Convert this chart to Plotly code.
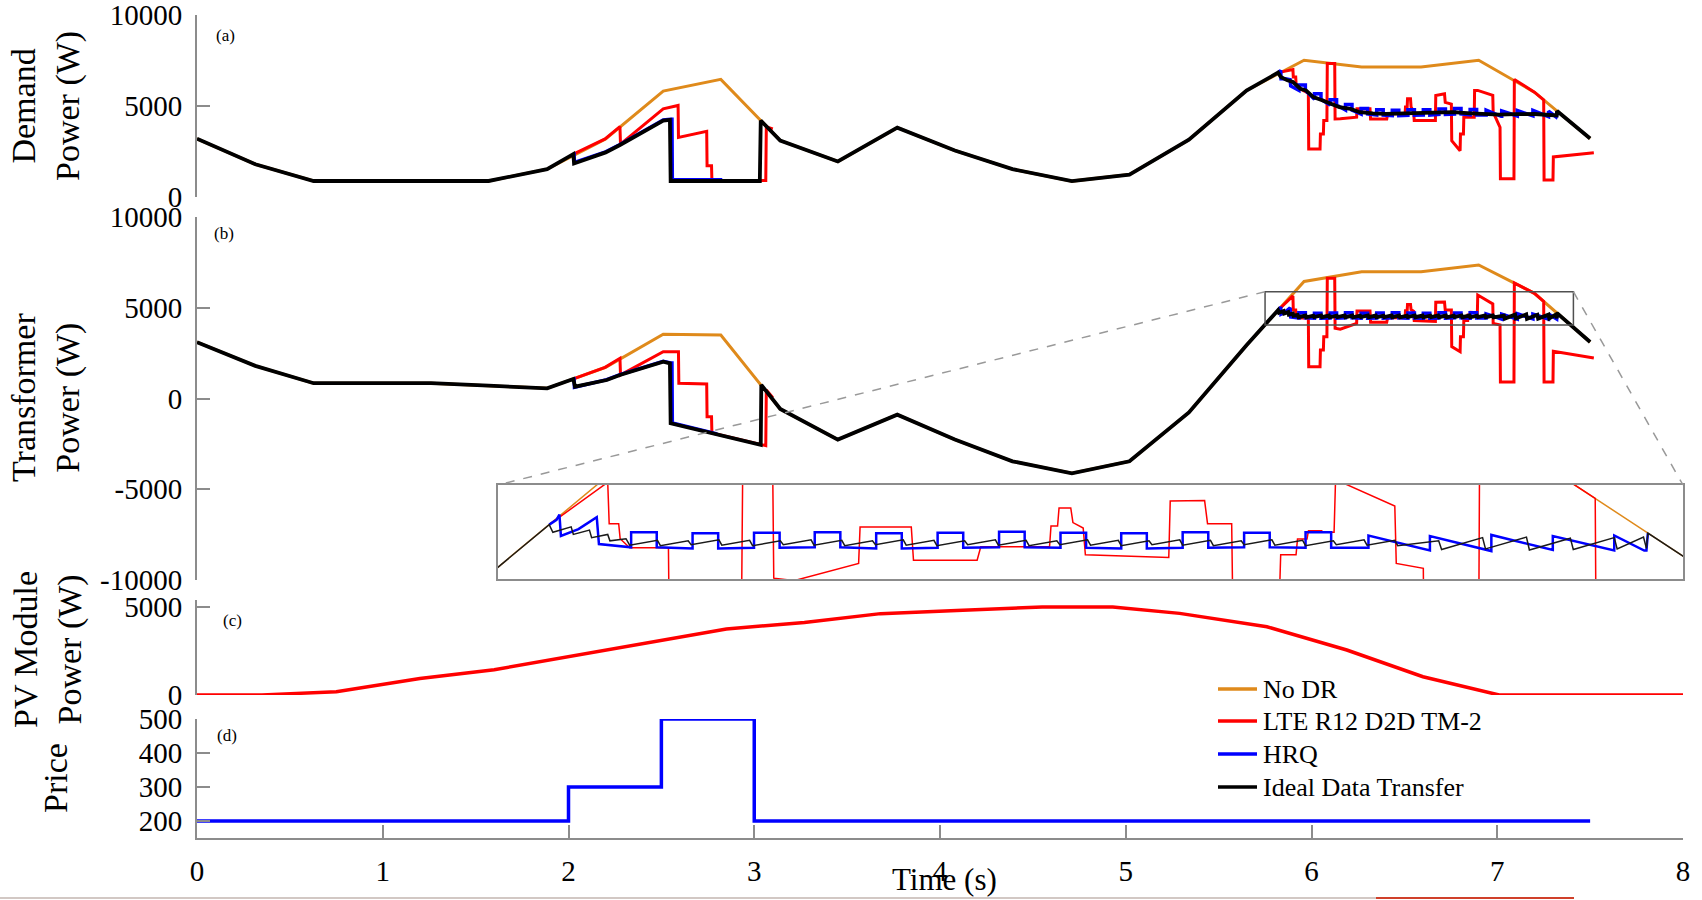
import plotly.graph_objects as go

# ====================== data ======================
# base time grid (s) for demand profiles
t_base = [0, 0.314, 0.628, 1.26, 1.57, 1.885, 2.2, 2.51, 2.82, 3.14, 3.45, 3.77, 4.08,
          4.39, 4.71, 5.02, 5.34, 5.65, 5.96, 6.27, 6.59, 6.9, 7.2, 7.5]
# No DR
nodr_a = [3200, 1800, 880, 880, 880, 1530, 3190, 5818, 6464, 3100, 1950, 3812, 2553,
          1530, 873, 1232, 3150, 5850, 7514, 7144, 7144, 7514, 5760, 3210]
nodr_b = [3100, 1800, 843, 843, 705, 560, 1720, 3537, 3500, -580, -2265, -890, -2265,
          -3460, -4120, -3460, -770, 2937, 6450, 6986, 6986, 7355, 5796, 3113]

# Ideal Data Transfer, panel (a)
ideal_a_t = [0, 0.314, 0.628, 1.26, 1.57, 1.885, 2.026, 2.03, 2.2, 2.277, 2.51, 2.546, 2.55,
             3.03, 3.035, 3.14, 3.45, 3.77, 4.08, 4.39, 4.71, 5.02, 5.34, 5.65, 5.82, 5.835,
             5.87, 5.9, 5.94, 5.97, 6.01, 6.05, 6.08, 6.12, 6.15, 6.21, 6.26, 6.33, 6.4, 6.5,
             6.58, 6.68, 6.76, 6.86, 6.94, 7.01, 7.1, 7.2, 7.32, 7.322, 7.5]
ideal_a_v = [3200, 1800, 880, 880, 880, 1530, 2360, 1840, 2450, 2856, 4200, 4240, 880,
             880, 4200, 3100, 1950, 3812, 2553, 1530, 873, 1232, 3150, 5850, 6834, 6590,
             6410, 6320, 5950, 5860, 5490, 5340, 5210, 5080, 4940, 4840, 4660, 4600, 4570, 4590,
             4600, 4630, 4660, 4600, 4560, 4530, 4550, 4560, 4480, 4723, 3210]

# Ideal Data Transfer, panel (b)
ideal_b_pre_t = [0, 0.314, 0.628, 1.26, 1.57, 1.885, 2.026, 2.035, 2.206, 2.277, 2.51, 2.546,
                 2.55, 2.762, 3.035, 3.038, 3.14, 3.45, 3.77, 4.08, 4.39, 4.71, 5.02, 5.34,
                 5.65, 5.82, 5.825, 5.85, 5.853, 5.875, 5.878, 5.9, 5.903, 5.925]
ideal_b_pre_v = [3100, 1800, 843, 843, 705, 560, 1079, 650, 1019, 1295, 2028, 1939,
                 -1366, -1884, -2550, 750, -580, -2265, -890, -2265, -3460, -4120, -3460, -770,
                 2937, 4863, 4720, 4820, 4680, 4760, 4620, 4680, 4560, 4600]
ideal_b_teeth_t = [5.93, 5.972, 6.014, 6.056, 6.098, 6.14, 6.182, 6.224, 6.266, 6.308, 6.35,
                   6.392, 6.434, 6.476, 6.518, 6.56, 6.602, 6.644, 6.686, 6.728, 6.77, 6.812,
                   6.854, 6.896, 6.938, 6.98, 7.04, 7.1, 7.16, 7.22, 7.28]
ideal_b_teeth_low = [4480, 4470, 4490, 4480, 4470, 4490, 4480, 4470, 4490, 4480, 4470,
                     4490, 4480, 4470, 4490, 4480, 4470, 4490, 4480, 4470, 4490, 4480,
                     4470, 4490, 4480, 4470, 4400, 4410, 4390, 4400, 4410]
ideal_b_teeth_high = [4570, 4560, 4580, 4570, 4560, 4580, 4570, 4560, 4580, 4570, 4560,
                      4580, 4570, 4560, 4580, 4570, 4560, 4580, 4570, 4560, 4580, 4570,
                      4560, 4580, 4570, 4560, 4620, 4630, 4610, 4620, 4630]
ideal_b_post_t = [7.32, 7.322, 7.5]
ideal_b_post_v = [4420, 4705, 3113]

# HRQ
hrq_pulse_t = [5.932, 6.016, 6.10, 6.183, 6.267, 6.351, 6.435, 6.519, 6.602, 6.686, 6.77, 6.854]
hrq_pulse_w = 0.035
hrq_ramp_t = [6.94, 7.024, 7.108, 7.192, 7.276]
hrq_end_t = 7.32

hrq_a_w1_t = [2.026, 2.03, 2.032, 2.2, 2.277, 2.51, 2.55, 2.557, 2.559, 2.82, 2.822]
hrq_a_w1_v = [2360, 2360, 1900, 2480, 2880, 4230, 4270, 4270, 950, 950, 880]
hrq_a_pre_t = [5.82, 5.83, 5.834, 5.836, 5.86, 5.885, 5.888]
hrq_a_pre_v = [6834, 6900, 6950, 6500, 6500, 6450, 6100]
hrq_a_base = [5860, 5370, 5050, 4780, 4560, 4500, 4470, 4490, 4500, 4540, 4560, 4510]
hrq_a_top = [6160, 5670, 5350, 5080, 4860, 4800, 4770, 4790, 4800, 4840, 4860, 4810]
hrq_a_ramp_top = [4770, 4730, 4750, 4760, 4710]
hrq_a_ramp_low = [4430, 4450, 4460, 4410, 4400]
hrq_a_end_v = [4480, 4723]

hrq_b_w1_t = [2.026, 2.03, 2.032, 2.206, 2.277, 2.51, 2.55, 2.557, 2.559, 2.762, 2.8]
hrq_b_w1_v = [1079, 1079, 620, 1040, 1320, 2050, 1960, 1960, -1350, -1850, -1950]
hrq_b_pre_t = [5.82, 5.83, 5.834, 5.836, 5.86, 5.885, 5.888]
hrq_b_pre_v = [4863, 4950, 5050, 4650, 4780, 5000, 4500]
hrq_b_base = [4440, 4420, 4430, 4440, 4420, 4430, 4440, 4430, 4420, 4430, 4440, 4430]
hrq_b_top = [4720, 4700, 4710, 4720, 4700, 4710, 4730, 4710, 4700, 4720, 4710, 4720]
hrq_b_ramp_top = [4660, 4650, 4670, 4650, 4660]
hrq_b_ramp_low = [4380, 4370, 4390, 4380, 4380]
hrq_b_end_v = [4380, 4705]

# LTE R12 D2D TM-2
lte_a_w1_t = [2.026, 2.197, 2.277, 2.28, 2.51, 2.59, 2.592, 2.744, 2.746, 2.77, 2.772, 3.062, 3.065, 3.1]
lte_a_w1_v = [2360, 3190, 3867, 2900, 4845, 5028, 3276, 3608, 1713, 1713, 900, 900, 3855, 3740]
lte_b_w1_t = [2.026, 2.197, 2.277, 2.28, 2.313, 2.51, 2.592, 2.594, 2.744, 2.746, 2.77, 2.772, 3.062, 3.065, 3.1]
lte_b_w1_v = [1079, 1719, 2215, 1295, 1477, 2579, 2579, 837, 799, -1003, -1003, -1900, -2600, 472, 40]
lte_w2_t = [5.82, 5.9, 5.902, 5.915, 5.917, 5.93, 5.983, 5.985, 6.046, 6.048, 6.064, 6.066,
            6.083, 6.085, 6.125, 6.127, 6.155, 6.243, 6.245, 6.315, 6.318, 6.405, 6.41, 6.504,
            6.506, 6.515, 6.517, 6.533, 6.536, 6.55, 6.553, 6.667, 6.669, 6.716, 6.72, 6.753,
            6.755, 6.8, 6.802, 6.818, 6.82, 6.841, 6.843, 6.856, 6.858, 6.876, 6.878, 6.893,
            6.895, 6.976, 6.978, 7.015, 7.017, 7.09, 7.092, 7.2, 7.25, 7.252, 7.3, 7.302, 7.52]
lte_a_w2_v = [6834, 6999, 6600, 6600, 6225, 6000, 5700, 2634, 2634, 3463, 3463, 4199,
              4199, 7330, 7330, 4291, 4300, 4383, 4844, 4844, 4291, 4291, 4568, 4568,
              4950, 4950, 5396, 5396, 4950, 4700, 4199, 4199, 5580, 5672, 5200, 5100,
              3095, 2542, 3463, 3463, 4383, 4383, 4383, 4383, 4383, 4383, 5856, 5856,
              5856, 5580, 4660, 3831, 1000, 1000, 6460, 5760, 5335, 940, 940, 2200, 2430]
lte_b_w2_v = [4863, 5650, 4880, 4880, 4600, 4430, 4430, 1754, 1754, 2672, 2672, 3407,
              3407, 6621, 6621, 3866, 3820, 4141, 4820, 4820, 4200, 4200, 4450, 4450,
              4837, 4837, 5174, 5174, 4900, 4800, 4300, 4250, 5300, 5310, 4880, 4880,
              2856, 2580, 3400, 3400, 4300, 4300, 4596, 4596, 4750, 4750, 4720, 4720,
              5700, 5210, 4141, 4050, 909, 909, 6368, 5796, 5350, 909, 909, 2600, 2230]

# PV module power
pv_t = [0, 0.35, 0.75, 1.2, 1.6, 2.0, 2.42, 2.85, 3.27, 3.68, 4.09, 4.55, 4.93, 5.29, 5.76, 6.19, 6.6, 7.01, 8.0]
pv_v = [0, 0, 190, 940, 1440, 2190, 2940, 3750, 4125, 4625, 4810, 5000, 5000, 4640, 3880, 2557, 1040, 0, 0]

# Price
price_t = [0, 2, 2.5, 3, 7.5]
price_v = [200, 300, 500, 200, 200]

# zoom box (panel b) and inset view
zoom_box_x = [5.75, 7.41]
zoom_box_y = [4050, 5885]
inset_x = [5.75, 7.37]
inset_y = [3850, 5600]

x_ticks = [0, 1, 2, 3, 4, 5, 6, 7, 8]
ya_ticks = [0, 5000, 10000]
yb_ticks = [-10000, -5000, 0, 5000, 10000]
yc_ticks = [0, 5000]
yd_ticks = [200, 300, 400, 500]

legend_names = ["No DR", "LTE R12 D2D TM-2", "HRQ", "Ideal Data Transfer"]

# ====================== helpers ======================
FONT = "Liberation Serif"
AXC = "#8c8c8c"
ORANGE = "#DF8A1B"
RED = "#FF0000"
BLUE = "#0000FF"
BLACK = "#000000"
legend_colors = [ORANGE, RED, BLUE, BLACK]

T_PX, B_PX, L_PX, R_PX = 15, 838, 197, 1683   # plot area in page pixels
FIG_W, FIG_H = 1702, 900


def pyf(p):
    return (B_PX - p) / (B_PX - T_PX)


def pxf(p):
    return (p - L_PX) / (R_PX - L_PX)


def join(*segs):
    xs, ys = [], []
    for i, (a, b) in enumerate(segs):
        if i:
            xs.append(None)
            ys.append(None)
        xs += list(a)
        ys += list(b)
    return xs, ys


def hrq_w2(pre_t, pre_v, base, top, rtop, rlow, end_v):
    xs, ys = list(pre_t), list(pre_v)
    for k, t0 in enumerate(hrq_pulse_t):
        xs += [t0, t0, t0 + hrq_pulse_w, t0 + hrq_pulse_w]
        ys += [base[k], top[k], top[k], base[k]]
    prev = base[-1]
    for j, r in enumerate(hrq_ramp_t):
        nxt = hrq_ramp_t[j + 1] if j + 1 < len(hrq_ramp_t) else hrq_end_t
        xs += [r, r, nxt - 0.003]
        ys += [prev, rtop[j], rlow[j]]
        prev = rlow[j]
    xs += [hrq_end_t, hrq_end_t + 0.002]
    ys += list(end_v)
    return xs, ys


def teeth_path(t, lo, hi, end_t):
    xs, ys = [], []
    for k in range(len(t)):
        nxt = t[k + 1] if k + 1 < len(t) else end_t
        xs += [t[k], nxt - 0.004]
        ys += [lo[k], hi[k]]
    return xs, ys


hrq_a_x, hrq_a_y = join((hrq_a_w1_t, hrq_a_w1_v),
                        hrq_w2(hrq_a_pre_t, hrq_a_pre_v, hrq_a_base, hrq_a_top,
                               hrq_a_ramp_top, hrq_a_ramp_low, hrq_a_end_v))
hrq_b_x, hrq_b_y = join((hrq_b_w1_t, hrq_b_w1_v),
                        hrq_w2(hrq_b_pre_t, hrq_b_pre_v, hrq_b_base, hrq_b_top,
                               hrq_b_ramp_top, hrq_b_ramp_low, hrq_b_end_v))
lte_a_x, lte_a_y = join((lte_a_w1_t, lte_a_w1_v), (lte_w2_t, lte_a_w2_v))
lte_b_x, lte_b_y = join((lte_b_w1_t, lte_b_w1_v), (lte_w2_t, lte_b_w2_v))
tx, ty = teeth_path(ideal_b_teeth_t, ideal_b_teeth_low, ideal_b_teeth_high, ideal_b_post_t[0])
ideal_b_x = list(ideal_b_pre_t) + tx + list(ideal_b_post_t)
ideal_b_y = list(ideal_b_pre_v) + ty + list(ideal_b_post_v)

# ====================== figure ======================
fig = go.Figure()


def add(x, y, color, width, xa, ya, shape="linear"):
    fig.add_trace(go.Scatter(x=x, y=y, mode="lines", showlegend=False,
                             line=dict(color=color, width=width, shape=shape),
                             xaxis=xa, yaxis=ya, hoverinfo="skip"))


# panel (a)
add(t_base, nodr_a, ORANGE, 3, "x", "y")
add(lte_a_x, lte_a_y, RED, 3, "x", "y")
add(hrq_a_x, hrq_a_y, BLUE, 3.5, "x", "y")
add(ideal_a_t, ideal_a_v, BLACK, 3.8, "x", "y")
# panel (b)
add(t_base, nodr_b, ORANGE, 3, "x2", "y2")
add(lte_b_x, lte_b_y, RED, 3, "x2", "y2")
add(hrq_b_x, hrq_b_y, BLUE, 3.5, "x2", "y2")
add(ideal_b_x, ideal_b_y, BLACK, 3.8, "x2", "y2")
# panel (c)
add(pv_t, pv_v, RED, 3.5, "x3", "y3")
# panel (d)
add(price_t, price_v, BLUE, 3.5, "x4", "y4", shape="hv")
# inset
add(t_base, nodr_b, ORANGE, 1.5, "x5", "y5")
add(lte_b_x, lte_b_y, RED, 1.5, "x5", "y5")
add(hrq_b_x, hrq_b_y, BLUE, 2.5, "x5", "y5")
add(ideal_b_x, ideal_b_y, "#1a1a1a", 1.5, "x5", "y5")

tickfont = dict(family=FONT, size=29, color="#000")


def yax(dom, rng, vals, anchor):
    return dict(domain=dom, range=rng, anchor=anchor, showline=True, linecolor=AXC,
                linewidth=2, ticks="inside", ticklen=13, tickwidth=1.5, tickcolor=AXC,
                showgrid=False, zeroline=False, tickvals=vals, automargin=False,
                ticklabeloverflow="allow",
                ticktext=[str(v) for v in vals], tickfont=tickfont, ticklabelstandoff=7)


def xhid(anchor):
    return dict(domain=[0, 1], range=[0, 8], anchor=anchor, visible=False,
                showgrid=False, zeroline=False, automargin=False)


dom_a = [pyf(197), pyf(15)]
dom_b = [pyf(580), pyf(217)]
dom_c = [pyf(695), pyf(600)]
dom_d = [pyf(838), pyf(719)]
ins_x = [pxf(498), 1.0]
ins_y = [pyf(579), pyf(485)]

fig.update_layout(
    width=FIG_W, height=FIG_H,
    margin=dict(l=L_PX, r=FIG_W - R_PX, t=T_PX, b=FIG_H - B_PX, autoexpand=False),
    plot_bgcolor="white", paper_bgcolor="white",
    font=dict(family=FONT, color="#000"),
    xaxis=xhid("y"), xaxis2=xhid("y2"), xaxis3=xhid("y3"),
    xaxis4=dict(domain=[0, 1], range=[0, 8], anchor="y4", showline=True, linecolor=AXC,
                linewidth=2, ticks="inside", ticklen=13, tickwidth=1.5, tickcolor=AXC,
                showgrid=False, zeroline=False, tickvals=x_ticks, automargin=False,
                ticklabeloverflow="allow",
                ticktext=[str(v) for v in x_ticks], tickfont=tickfont, ticklabelstandoff=6),
    yaxis=yax(dom_a, [0, 10000], ya_ticks, "x"),
    yaxis2=yax(dom_b, [-10000, 10000], yb_ticks, "x2"),
    yaxis3=yax(dom_c, [0, 5400], yc_ticks, "x3"),
    yaxis4=yax(dom_d, [150, 500], yd_ticks, "x4"),
    xaxis5=dict(domain=ins_x, range=inset_x, anchor="y5", showline=True, mirror=True,
                linecolor=AXC, linewidth=1.5, ticks="", showticklabels=False,
                showgrid=False, zeroline=False, automargin=False),
    yaxis5=dict(domain=ins_y, range=inset_y, anchor="x5", showline=True, mirror=True,
                linecolor=AXC, linewidth=1.5, ticks="", showticklabels=False,
                showgrid=False, zeroline=False, automargin=False),
    showlegend=False,
)

# zoom rectangle in (b)
fig.add_shape(type="rect", xref="x2", yref="y2", x0=zoom_box_x[0], x1=zoom_box_x[1],
              y0=zoom_box_y[0], y1=zoom_box_y[1], line=dict(color="#505050", width=1.5))


def b_to_paper(xv, yv):
    return xv / 8.0, dom_b[0] + (yv + 10000) / 20000 * (dom_b[1] - dom_b[0])


p1 = b_to_paper(zoom_box_x[0], zoom_box_y[1])
p2 = b_to_paper(zoom_box_x[1], zoom_box_y[1])
fig.add_shape(type="line", xref="paper", yref="paper", x0=p1[0], y0=p1[1], x1=ins_x[0], y1=ins_y[1],
              line=dict(color="#999999", width=1.5, dash="dash"))
fig.add_shape(type="line", xref="paper", yref="paper", x0=p2[0], y0=p2[1], x1=ins_x[1], y1=ins_y[1],
              line=dict(color="#999999", width=1.5, dash="dash"))

# bottom page edge lines
fig.add_shape(type="line", xref="paper", yref="paper", x0=pxf(0), x1=pxf(1376), y0=pyf(898), y1=pyf(898),
              line=dict(color="#d2c8c4", width=2))
fig.add_shape(type="line", xref="paper", yref="paper", x0=pxf(1376), x1=pxf(1574), y0=pyf(898), y1=pyf(898),
              line=dict(color="#d0402a", width=2))

# legend (drawn manually for exact spacing)
legend_y_px = [689, 721, 754, 787]
for name, col, ly in zip(legend_names, legend_colors, legend_y_px):
    fig.add_shape(type="line", xref="paper", yref="paper", x0=pxf(1218), x1=pxf(1257),
                  y0=pyf(ly), y1=pyf(ly), line=dict(color=col, width=3.5))
    fig.add_annotation(text=name, x=pxf(1261), y=pyf(ly), xref="paper", yref="paper",
                       showarrow=False, xanchor="left", yanchor="middle",
                       font=dict(family=FONT, size=26, color="#000"))

# panel labels
for lab, (lx, ly) in {"(a)": (225, 36), "(b)": (224, 233), "(c)": (232, 620), "(d)": (227, 735)}.items():
    fig.add_annotation(text=lab, x=pxf(lx), y=pyf(ly), xref="paper", yref="paper",
                       showarrow=False, xanchor="center", yanchor="middle",
                       font=dict(family=FONT, size=17, color="#000"))

# y-axis titles
for txt, (cx, cy) in {"Demand<br>Power (W)": (46, 106),
                      "Transformer<br>Power (W)": (46, 398),
                      "PV Module<br>Power (W)": (48, 650),
                      "Price": (55, 778)}.items():
    fig.add_annotation(text=txt, x=pxf(cx), y=pyf(cy), xref="paper", yref="paper",
                       showarrow=False, textangle=-90, xanchor="center", yanchor="middle",
                       font=dict(family=FONT, size=34, color="#000"))

# x-axis title
fig.add_annotation(text="Time (s)", x=pxf(944), y=pyf(879), xref="paper", yref="paper",
                   showarrow=False, xanchor="center", yanchor="middle",
                   font=dict(family=FONT, size=31, color="#000"))

# remove the default 8px body margin so the figure fills the 1702x900 window exactly
fig.write_html("out.html", config={"displayModeBar": False},
               post_script="document.body.style.margin='0';document.body.style.overflow='hidden';")
